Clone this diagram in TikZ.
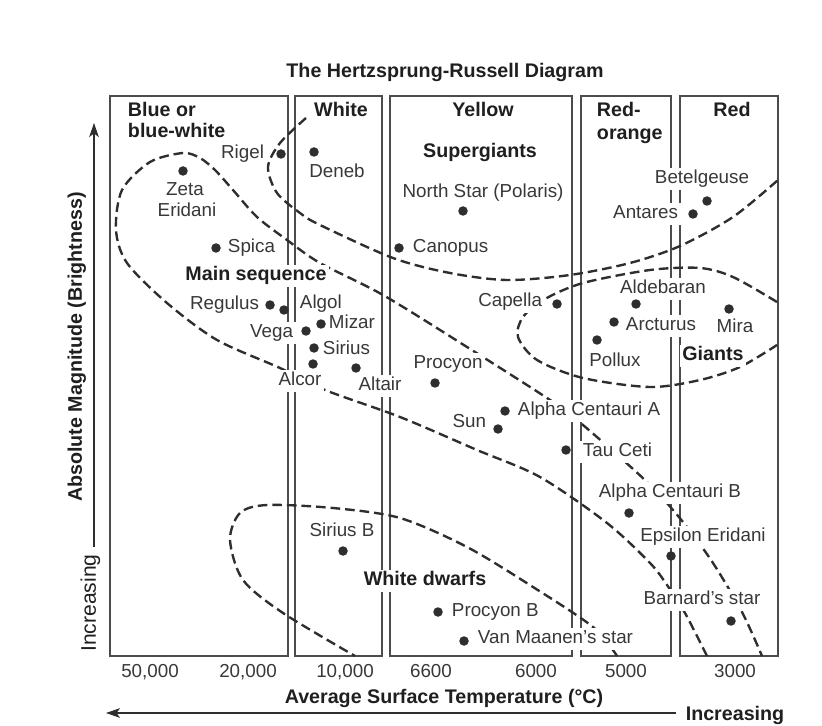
\documentclass[tikz,border=0pt]{standalone}
\usepackage{fontspec}
\setmainfont{Liberation Sans}
\usetikzlibrary{arrows.meta}
\definecolor{ink}{HTML}{2E2E2E}
\tikzset{
  dot/.style={circle,fill=ink,inner sep=0pt,minimum size=0.19cm},
  lbl/.style={fill=white,inner sep=1.5pt,text=black!78,font=\fontsize{10.7}{12}\selectfont,text height=0.75em,text depth=0.2em},
  hdr/.style={lbl,text=black!88,font=\fontsize{11.2}{13}\selectfont\bfseries},
  band/.style={ink,line width=1.35pt,dash pattern=on 5.5pt off 2.8pt},
  col/.style={black!70,line width=0.6pt},
  axis/.style={ink,line width=0.6pt,-{Stealth[length=8pt,width=5.5pt,inset=2pt]}}
}
\newcommand{\hrstar}[3]{\node[dot] (#1) at (#2,#3) {};}
\newcommand{\hrcol}[2]{\draw[col] (#1,96) rectangle (#2,656);}

\begin{document}
\begin{tikzpicture}[x=0.02cm,y=-0.02cm]
    \useasboundingbox (0,0) rectangle (822,726);
    \node[hdr] (title) at (445,73) {The Hertzsprung-Russell Diagram};
    \hrcol{110}{288} \hrcol{295}{382} \hrcol{390}{572}
    \hrcol{581}{671} \hrcol{680}{778}

    \draw[band] plot[smooth] coordinates {(707,656) (685,613) (667,585) (650,563) (607,523) (540,477) (477,450) (400,417) (325,390) (280,368) (217,340) (167,303) (127,263) (116,230) (122,190) (150,162) (183,153) (200,158) (215,170) (233,190) (257,217) (287,240) (320,263) (383,295) (467,347) (550,400) (583,425) (647,482) (683,522) (713,563) (742,612) (762,656)};
    \draw[band] plot[smooth] coordinates {(306,118) (280,143) (268,167) (277,193) (300,213) (320,225) (393,258) (450,273) (507,280) (570,275) (630,263) (680,246) (733,217) (778,180)};
    \draw[band] plot[smooth] coordinates {(777,302) (733,277) (700,268) (650,270) (583,283) (545,299) (523,317) (518,337) (537,360) (583,378) (650,387) (700,380) (740,367) (777,345)};
    \draw[band] plot[smooth] coordinates {(617,656) (593,627) (533,587) (467,547) (400,518) (333,508) (267,505) (240,513) (230,540) (243,580) (283,613) (355,656)};

    \node[hdr,anchor=west] (blue1) at (125,112) {Blue or};
    \node[hdr,anchor=west] (blue2) at (125,133) {blue-white};
    \node[hdr] (white) at (341,112) {White};
    \node[hdr] (yellow) at (483,112) {Yellow};
    \node[hdr,anchor=west] (redor1) at (594,112) {Red-};
    \node[hdr,anchor=west] (redor2) at (594,135) {orange};
    \node[hdr] (red) at (732,112) {Red};
    \node[hdr] (superg) at (480,153) {Supergiants};
    \node[hdr] (mainseq) at (256,276) {Main sequence};
    \node[hdr] (giants) at (713,356) {Giants};
    \node[hdr] (dwarfs) at (425,581) {White dwarfs};

    \node[lbl,anchor=east] (rigel-l) at (267,154) {Rigel};
    \node[lbl] (deneb-l) at (337,173) {Deneb};
    \node[lbl] (zeta-l1) at (185,191) {Zeta};
    \node[lbl] (zeta-l2) at (187,212) {Eridani};
    \node[lbl,anchor=west] (spica-l) at (225,248) {Spica};
    \node[lbl,anchor=east] (regulus-l) at (262,305) {Regulus};
    \node[lbl,anchor=west] (algol-l) at (297,304) {Algol};
    \node[lbl,anchor=east] (vega-l) at (296,333) {Vega};
    \node[lbl,anchor=west] (mizar-l) at (326,324) {Mizar};
    \node[lbl,anchor=west] (sirius-l) at (320,350) {Sirius};
    \node[lbl] (alcor-l) at (300,381) {Alcor};
    \node[lbl] (altair-l) at (380,386) {Altair};
    \node[lbl] (procyon-l) at (448,364) {Procyon};
    \node[lbl] (polaris-l) at (483,193) {North Star (Polaris)};
    \node[lbl,anchor=west] (canopus-l) at (410,248) {Canopus};
    \node[lbl] (betel-l) at (702,179) {Betelgeuse};
    \node[lbl,anchor=east] (antares-l) at (681,214) {Antares};
    \node[lbl,anchor=east] (capella-l) at (545,302) {Capella};
    \node[lbl] (aldeb-l) at (663,289) {Aldebaran};
    \node[lbl,anchor=west] (arct-l) at (623,326) {Arcturus};
    \node[lbl] (mira-l) at (735,328) {Mira};
    \node[lbl] (pollux-l) at (615,362) {Pollux};
    \node[lbl,anchor=west] (acena-l) at (515,411) {Alpha Centauri A};
    \node[lbl,anchor=east] (sun-l) at (489,423) {Sun};
    \node[lbl,anchor=west] (tau-l) at (580,452) {Tau Ceti};
    \node[lbl] (acenb-l) at (670,493) {Alpha Centauri B};
    \node[lbl] (epseri-l) at (703,537) {Epsilon Eridani};
    \node[lbl] (barnard-l) at (702,600) {Barnard’s star};
    \node[lbl,anchor=west] (procyonb-l) at (449,612) {Procyon B};
    \node[lbl,anchor=west] (vanm-l) at (475,639) {Van Maanen’s star};
    \node[lbl] (siriusb-l) at (342,532) {Sirius B};

    \hrstar{rigel}{281}{154} \hrstar{deneb}{314}{152} \hrstar{zeta}{183}{171}
    \hrstar{spica}{216}{248} \hrstar{regulus}{270}{305} \hrstar{algol}{284}{310}
    \hrstar{vega}{306}{331} \hrstar{mizar}{321}{324} \hrstar{sirius}{314}{348}
    \hrstar{alcor}{313}{364} \hrstar{altair}{356}{368} \hrstar{procyon}{435}{383}
    \hrstar{polaris}{463}{211} \hrstar{canopus}{399}{248} \hrstar{betelgeuse}{707}{201}
    \hrstar{antares}{693}{214} \hrstar{capella}{557}{304} \hrstar{aldebaran}{636}{304}
    \hrstar{arcturus}{614}{322} \hrstar{mira}{729}{309} \hrstar{pollux}{597}{340}
    \hrstar{acena}{505}{411} \hrstar{sun}{498}{429} \hrstar{tauceti}{566}{450}
    \hrstar{acenb}{629}{513} \hrstar{epseri}{671}{556} \hrstar{barnard}{731}{621}
    \hrstar{procyonb}{438}{612} \hrstar{vanmaanen}{464}{641} \hrstar{siriusb}{343}{551}

    \node[lbl] (t1) at (150,673) {50,000};
    \node[lbl] (t2) at (248,673) {20,000};
    \node[lbl] (t3) at (345,673) {10,000};
    \node[lbl] (t4) at (431,673) {6600};
    \node[lbl] (t5) at (536,673) {6000};
    \node[lbl] (t6) at (626,673) {5000};
    \node[lbl] (t7) at (735,673) {3000};
    \node[hdr] (xlabel) at (444,699) {Average Surface Temperature (°C)};
    \node[hdr] (xinc) at (735,716) {Increasing};
    \coordinate (xtail) at (676,713); \coordinate (xtip) at (106,713);
    \draw[axis] (xtail) -- (xtip);
    \node[hdr,rotate=90] (ylabel) at (77,347) {Absolute Magnitude (Brightness)};
    \node[lbl,rotate=90,text=black!88,font=\fontsize{12}{14}\selectfont] (yinc) at (91,603) {Increasing};
    \coordinate (ytail) at (94,547); \coordinate (ytip) at (94,123);
    \draw[axis] (ytail) -- (ytip);
\end{tikzpicture}
\end{document}
